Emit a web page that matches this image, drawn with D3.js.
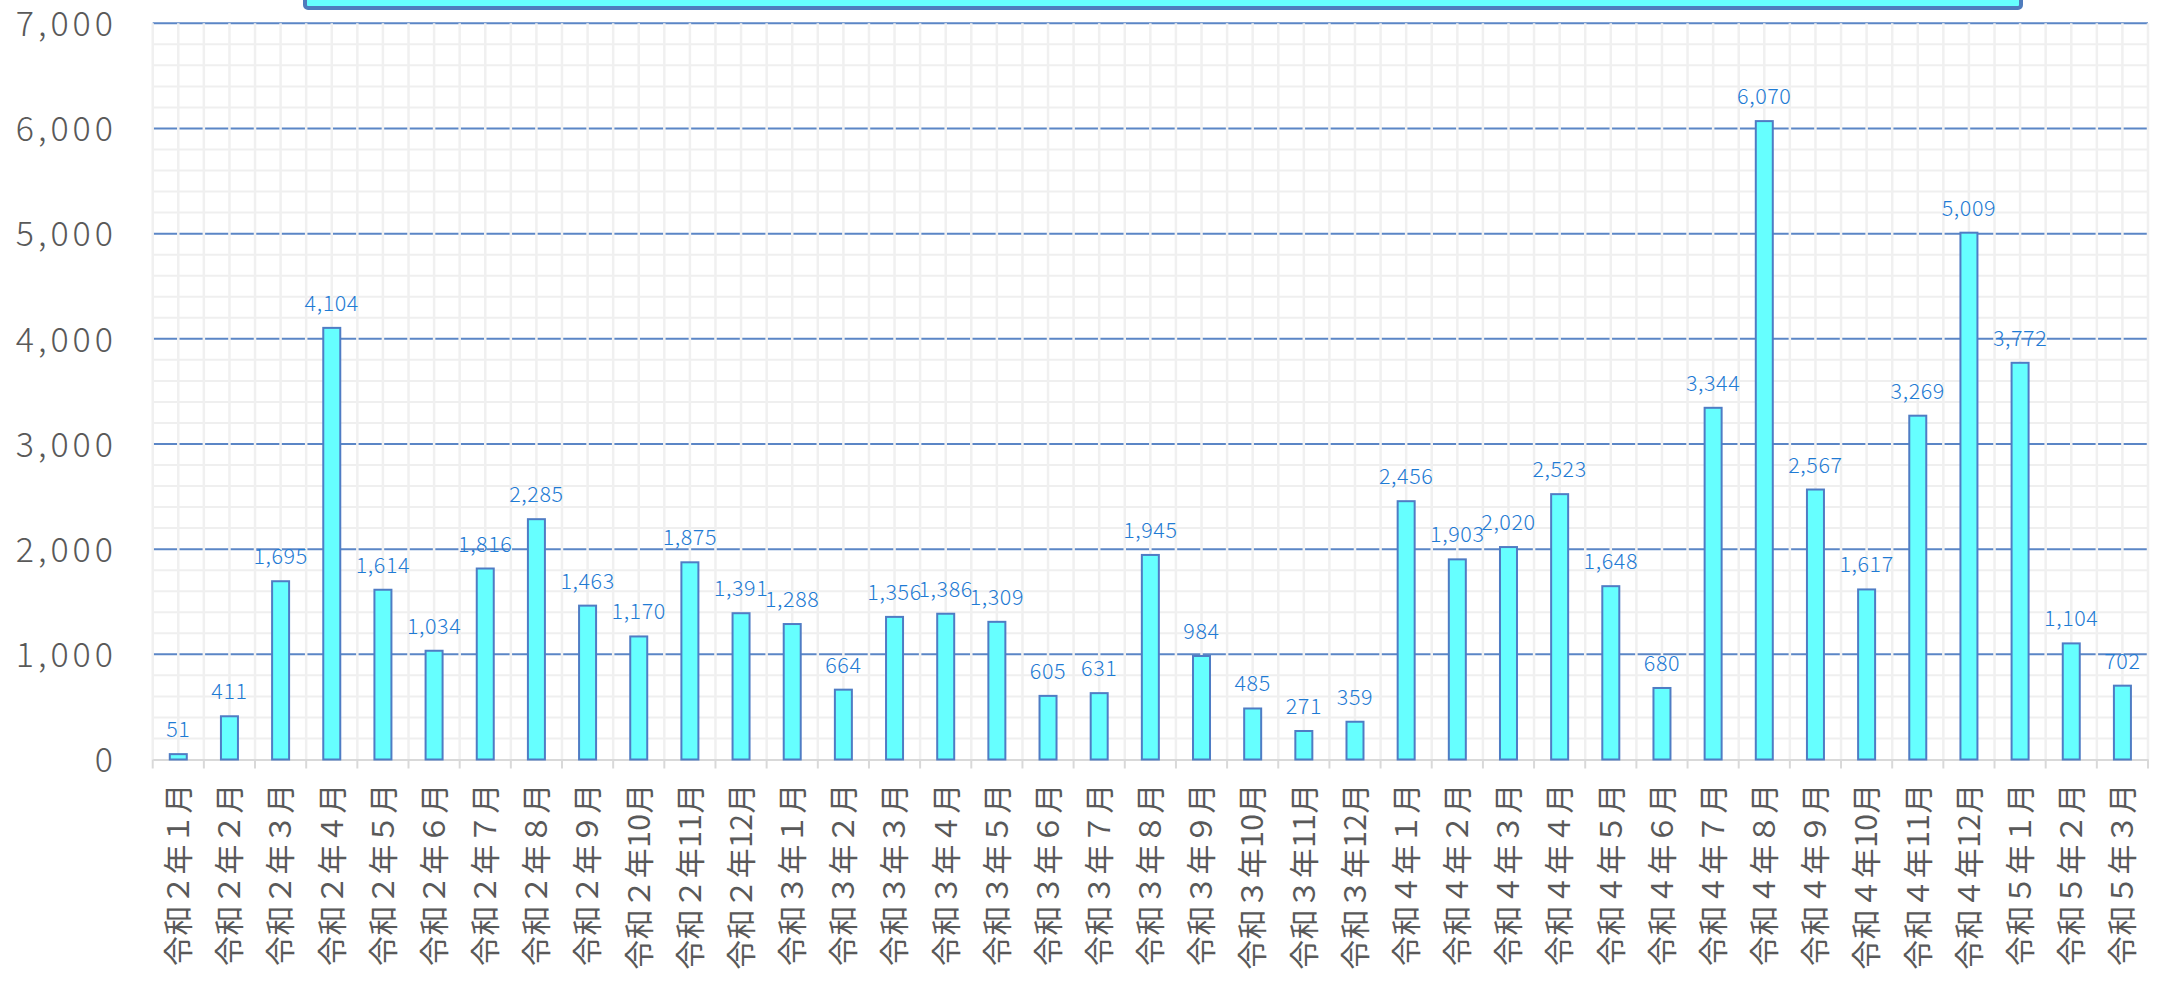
<!DOCTYPE html>
<html>
<head>
<meta charset="utf-8">
<script src="https://cdn.jsdelivr.net/npm/d3@7"></script>
<style>
  html, body { margin: 0; padding: 0; background: #fff; overflow: hidden; }
  svg { display: block; }
</style>
</head>
<body>
<svg id="chart"></svg>
<script>
// months, one bar each
const categories = [
  '令和２年１月', '令和２年２月', '令和２年３月', '令和２年４月', '令和２年５月', '令和２年６月',
  '令和２年７月', '令和２年８月', '令和２年９月', '令和２年10月', '令和２年11月', '令和２年12月',
  '令和３年１月', '令和３年２月', '令和３年３月', '令和３年４月', '令和３年５月', '令和３年６月',
  '令和３年７月', '令和３年８月', '令和３年９月', '令和３年10月', '令和３年11月', '令和３年12月',
  '令和４年１月', '令和４年２月', '令和４年３月', '令和４年４月', '令和４年５月', '令和４年６月',
  '令和４年７月', '令和４年８月', '令和４年９月', '令和４年10月', '令和４年11月', '令和４年12月',
  '令和５年１月', '令和５年２月', '令和５年３月'
];

const counts = [
  51, 411, 1695, 4104, 1614, 1034, 1816, 2285, 1463, 1170, 1875, 1391,
  1288, 664, 1356, 1386, 1309, 605, 631, 1945, 984, 485, 271, 359,
  2456, 1903, 2020, 2523, 1648, 680, 3344, 6070, 2567, 1617, 3269, 5009,
  3772, 1104, 702
];

const yTicks = [0, 1000, 2000, 3000, 4000, 5000, 6000, 7000];

const width = 2162, height = 984;
const plotLeft = 152.7, plotRight = 2148, plotTop = 23.3, plotBottom = 759.5;

const svg = d3.select('#chart')
  .attr('width', width)
  .attr('height', height);

const x = d3.scaleBand()
  .domain(categories)
  .range([plotLeft, plotRight])
  .paddingInner(0)
  .paddingOuter(0);

const y = d3.scaleLinear()
  .domain([0, 7000])
  .range([plotBottom, plotTop]);

const numFmt = d3.format(',');
const band = x.bandwidth();

// title box, mostly cut off at the top
svg.append('rect')
  .attr('x', 305)
  .attr('y', -40)
  .attr('width', 1716)
  .attr('height', 48)
  .attr('rx', 3)
  .attr('fill', '#66ffff')
  .attr('stroke', '#4f7cbd')
  .attr('stroke-width', 4);

const grid = svg.append('g');

// minor horizontal lines every 200
grid.selectAll('line.hminor')
  .data(d3.range(200, 7000, 200).filter((v) => v % 1000 !== 0))
  .enter()
  .append('line')
  .attr('class', 'hminor')
  .attr('x1', plotLeft)
  .attr('x2', plotRight)
  .attr('y1', (d) => y(d))
  .attr('y2', (d) => y(d))
  .attr('stroke', '#efefef')
  .attr('stroke-width', 2);

// major horizontal lines
grid.selectAll('line.hmajor')
  .data(yTicks.filter((v) => v > 0))
  .enter()
  .append('line')
  .attr('class', 'hmajor')
  .attr('x1', plotLeft)
  .attr('x2', plotRight)
  .attr('y1', (d) => y(d))
  .attr('y2', (d) => y(d))
  .attr('stroke', '#5b86c6')
  .attr('stroke-width', 2);

// vertical minor lines every half category, drawn over the majors
const halfSteps = d3.range(0, categories.length * 2 + 1);
grid.selectAll('line.vminor')
  .data(halfSteps)
  .enter()
  .append('line')
  .attr('class', 'vminor')
  .attr('x1', (d) => plotLeft + d * band / 2)
  .attr('x2', (d) => plotLeft + d * band / 2)
  .attr('y1', plotTop)
  .attr('y2', plotBottom)
  .attr('stroke', '#f0f0f0')
  .attr('stroke-width', 2.5);

// x axis line and ticks
const xAxis = d3.axisBottom(x).tickSize(0).tickFormat('');
svg.append('g')
  .attr('transform', `translate(0,${plotBottom})`)
  .call(xAxis)
  .call((g) => g.select('.domain').attr('stroke', '#d9d9d9').attr('stroke-width', 2));

svg.append('g')
  .selectAll('line')
  .data(d3.range(0, categories.length + 1))
  .enter()
  .append('line')
  .attr('x1', (d) => plotLeft + d * band)
  .attr('x2', (d) => plotLeft + d * band)
  .attr('y1', plotBottom)
  .attr('y2', plotBottom + 9)
  .attr('stroke', '#d9d9d9')
  .attr('stroke-width', 2);

// y axis labels
const yAxis = d3.axisLeft(y).tickValues(yTicks).tickSize(0).tickPadding(0).tickFormat(numFmt);
svg.append('g')
  .attr('transform', 'translate(117,0)')
  .call(yAxis)
  .call((g) => g.select('.domain').remove())
  .call((g) => g.selectAll('text')
    .attr('fill', '#595959')
    .attr('font-family', '"Noto Sans CJK JP", sans-serif')
    .attr('font-weight', 300)
    .attr('font-size', 34)
    .attr('letter-spacing', 4)
    .attr('dy', '0.36em'));

// category labels, rotated
svg.append('g')
  .selectAll('text')
  .data(categories)
  .enter()
  .append('text')
  .attr('transform', (d) => `translate(${x(d) + band / 2},783) rotate(-90)`)
  .attr('text-anchor', 'end')
  .attr('dy', '0.36em')
  .attr('fill', '#595959')
  .attr('font-family', '"Noto Sans CJK JP", sans-serif')
  .attr('font-weight', 400)
  .attr('font-size', 30)
  .attr('letter-spacing', 0.5)
  .text((d) => d);

// bars
const barW = 17;
svg.append('g')
  .selectAll('rect')
  .data(counts)
  .enter()
  .append('rect')
  .attr('x', (d, i) => x(categories[i]) + band / 2 - barW / 2)
  .attr('y', (d) => y(d))
  .attr('width', barW)
  .attr('height', (d) => plotBottom - y(d))
  .attr('fill', '#66ffff')
  .attr('stroke', '#4f7cc4')
  .attr('stroke-width', 2);

// value labels
svg.append('g')
  .selectAll('text')
  .data(counts)
  .enter()
  .append('text')
  .attr('x', (d, i) => x(categories[i]) + band / 2)
  .attr('y', (d) => y(d) - 17)
  .attr('text-anchor', 'middle')
  .attr('fill', '#1f7bd4')
  .attr('font-family', '"Noto Sans CJK JP", sans-serif')
  .attr('font-weight', 300)
  .attr('font-size', 21.5)
  .attr('letter-spacing', 0.6)
  .text((d) => numFmt(d));
</script>
</body>
</html>
